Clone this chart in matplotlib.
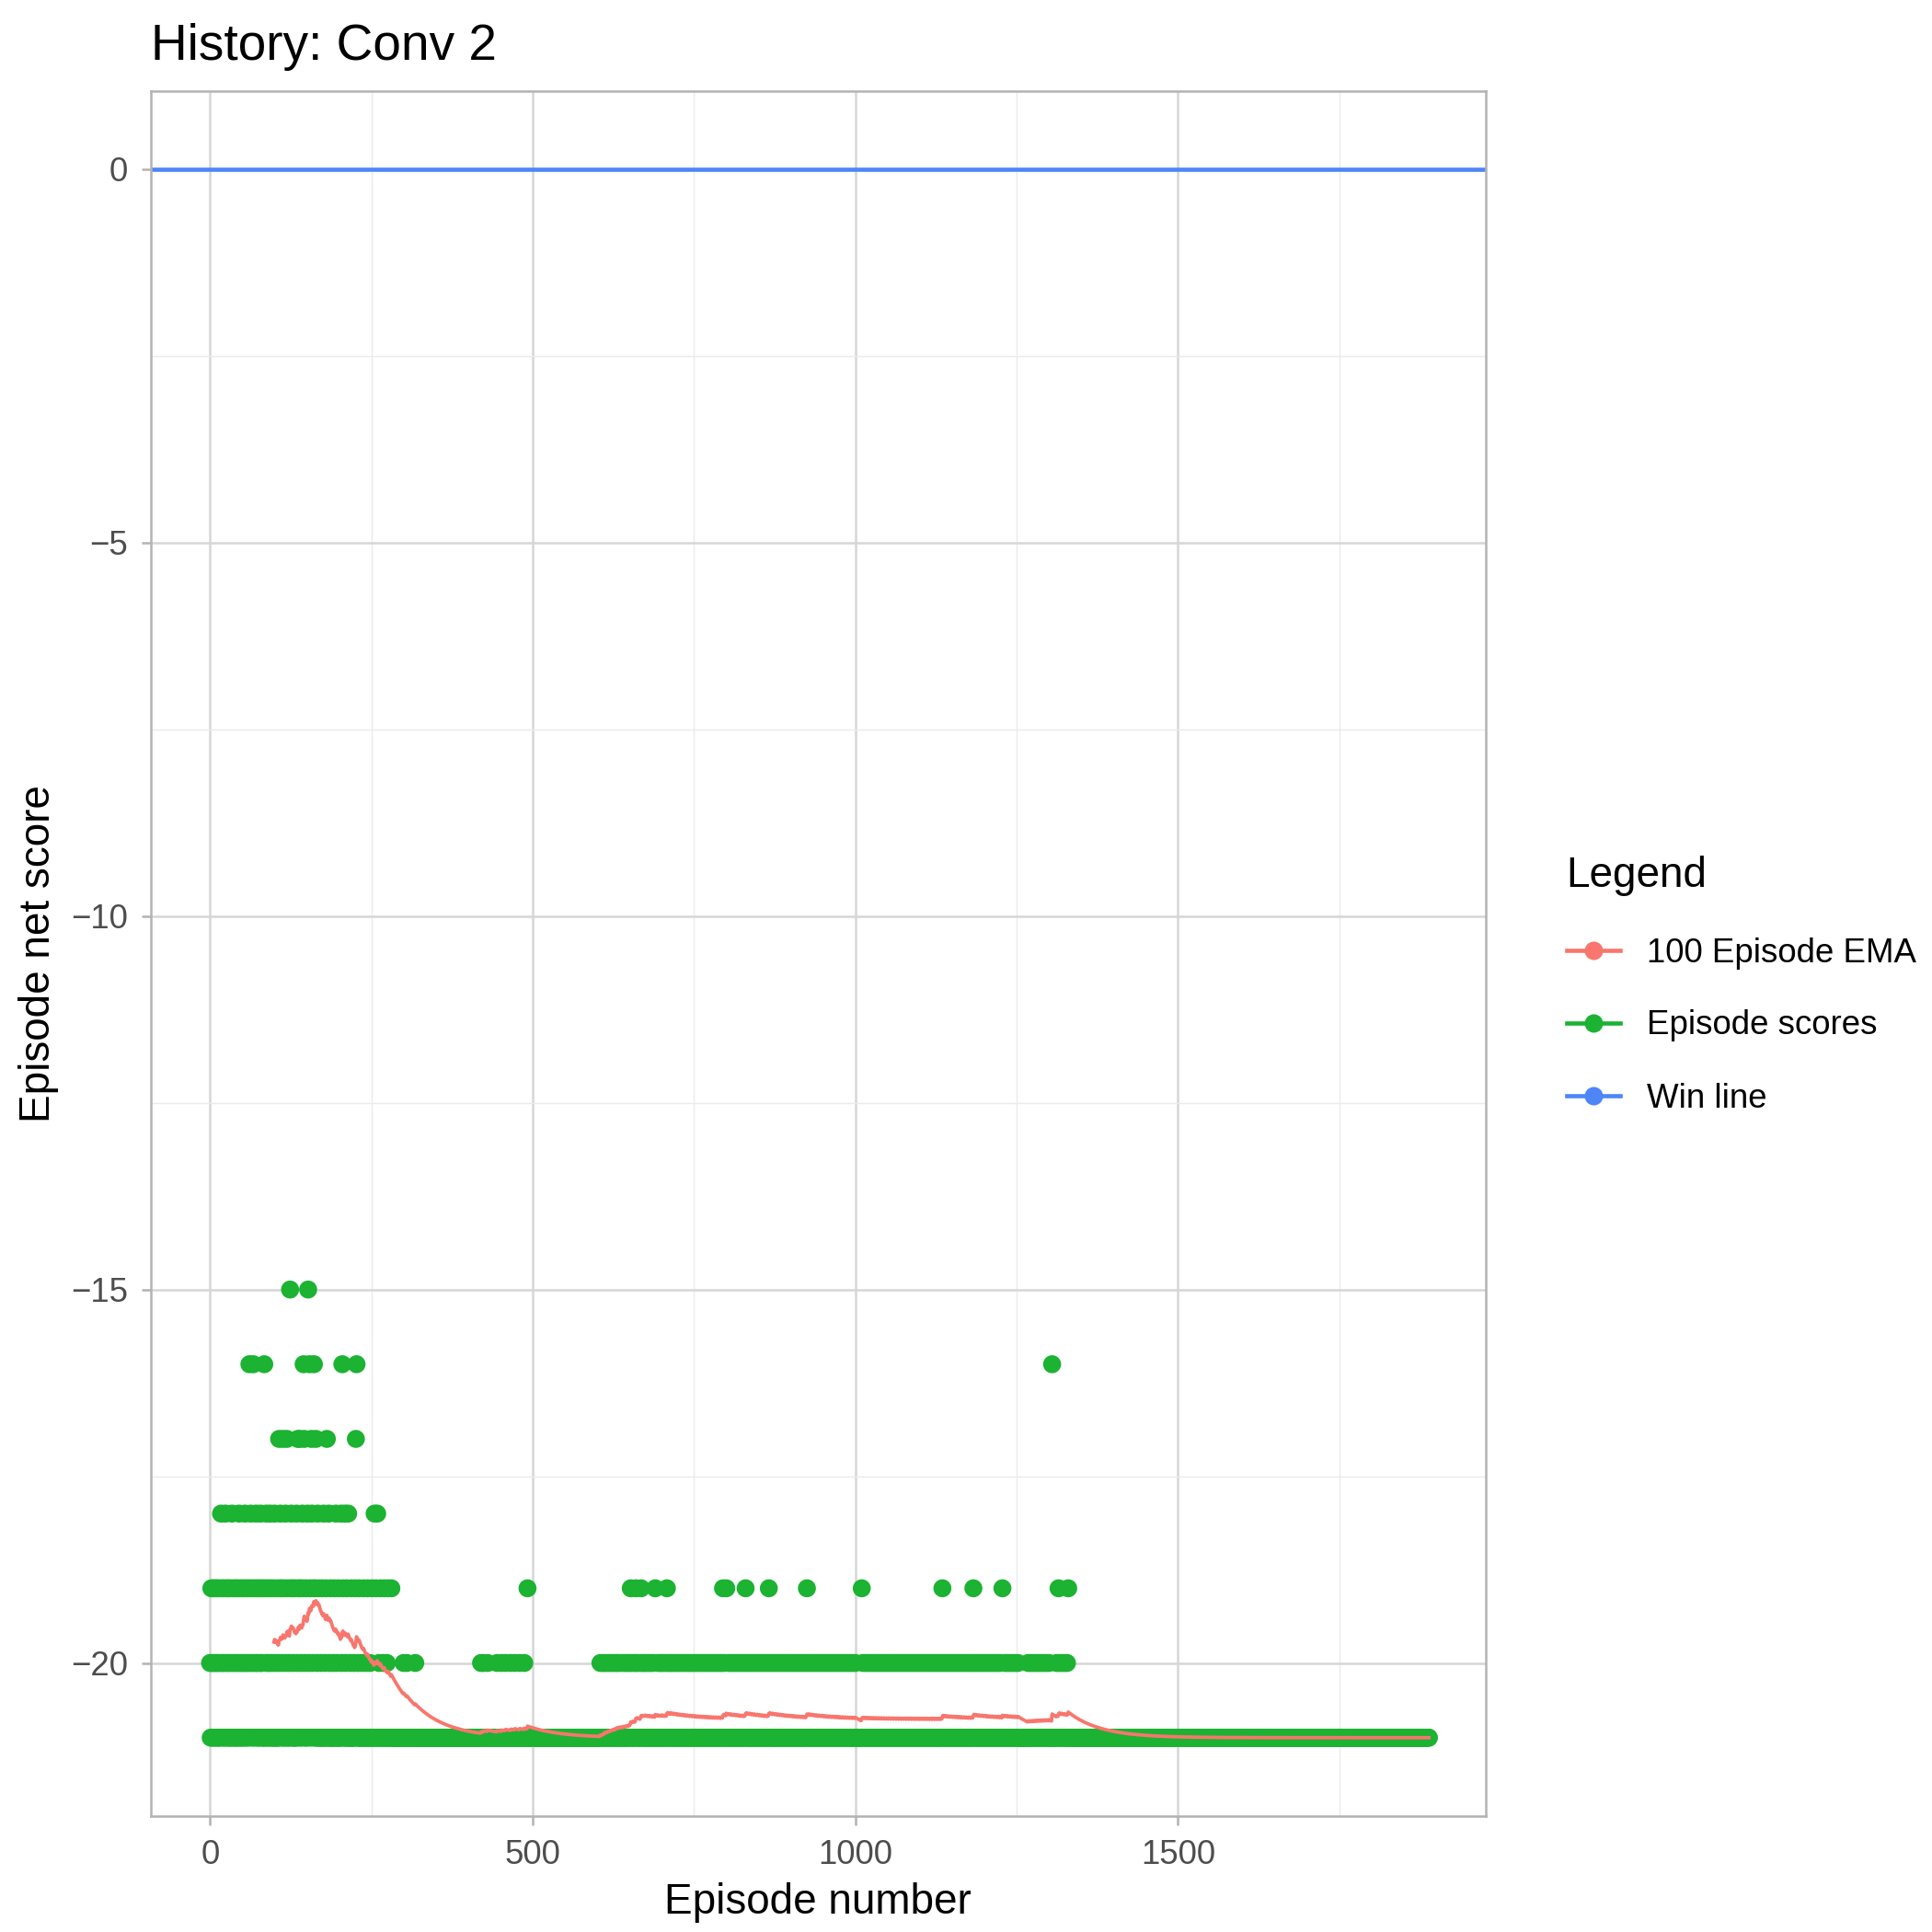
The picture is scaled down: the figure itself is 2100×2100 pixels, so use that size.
"""
History plot: Conv 2 episode scores
"""

import numpy as np
import matplotlib.pyplot as plt
from matplotlib.lines import Line2D

plt.rcParams['font.family'] = ['Liberation Sans', 'DejaVu Sans']

N_EPISODES = 1890
BASE_SCORE = -21
WIN_SCORE = 0
EMA_SPAN = 100

# episodes that scored better than -21, by score level
eps_m20 = [0, 3, 6, 9, 12, 16, 19, 22, 26, 29, 33, 37, 40, 44, 48, 51, 55, 58, 62, 66, 70, 73, 77, 80,
           84, 88, 92, 96, 101, 106, 112, 118, 123, 129, 135, 141, 147, 153, 159, 166, 172, 178, 185,
           191, 197, 204, 210, 217, 223, 229, 236, 242, 248, 255, 262, 268, 274, 300, 305, 318,
           420, 424, 430, 445, 452, 458, 466, 472, 480, 487,
           605, 609, 612, 616, 620, 624, 628, 631, 635, 640, 644, 648, 651, 655, 659, 662, 667, 671,
           674, 678, 682, 686, 690, 694, 698, 701, 705, 709, 713, 716, 720, 724, 728, 732, 736, 740,
           744, 748, 752, 756, 760, 764, 768, 772, 776, 780, 784, 788, 792, 796, 800, 804, 808, 812,
           816, 820, 824, 828, 832, 836, 840, 844, 848, 852, 856, 860, 864, 868, 872, 876, 880, 884,
           888, 892, 896, 900, 904, 908, 912, 916, 920, 924, 928, 932, 936, 940, 944, 948, 952, 956,
           960, 964, 968, 972, 976, 980, 984, 988, 992, 996, 1000, 1012, 1016, 1020, 1024, 1028,
           1032, 1036, 1040, 1044, 1048, 1052, 1056, 1060, 1064, 1068, 1072, 1076, 1080, 1084, 1088,
           1092, 1096, 1100, 1104, 1108, 1112, 1116, 1120, 1124, 1128, 1132, 1136, 1140, 1144, 1148,
           1152, 1156, 1160, 1164, 1168, 1172, 1176, 1180, 1184, 1188, 1192, 1196, 1200, 1204, 1208,
           1212, 1216, 1220, 1224, 1228, 1232, 1236, 1240, 1244, 1248, 1252, 1268, 1272, 1276, 1280,
           1284, 1288, 1292, 1296, 1300, 1312, 1316, 1320, 1324, 1328]
eps_m19 = [2, 5, 8, 11, 14, 18, 21, 25, 28, 31, 35, 39, 42, 46, 50, 53, 57, 60, 64, 68, 72, 75, 79, 82,
           86, 90, 94, 98, 103, 108, 111, 115, 120, 125, 128, 132, 137, 140, 144, 149, 155, 160, 163,
           169, 174, 180, 187, 193, 199, 206, 212, 219, 225, 231, 238, 244, 251, 257, 264, 270, 276,
           281, 492, 652, 660, 668, 690, 708, 795, 800, 830, 866, 925, 1010, 1135, 1183, 1228, 1315,
           1330]
eps_m18 = [17, 24, 34, 45, 54, 63, 71, 78, 87, 93, 100, 109, 117, 126, 134, 143, 151, 158, 167, 176,
           184, 195, 203, 209, 214, 255, 259]
eps_m17 = [107, 113, 119, 136, 139, 146, 157, 164, 181, 226]
eps_m16 = [61, 67, 84, 145, 154, 161, 205, 227, 1305]
eps_m15 = [124, 152]

episodes = np.arange(N_EPISODES)
scores = np.full(N_EPISODES, BASE_SCORE, dtype=float)
for level, eps in [(-20, eps_m20), (-19, eps_m19), (-18, eps_m18),
                   (-17, eps_m17), (-16, eps_m16), (-15, eps_m15)]:
    scores[eps] = level

# 100 episode EMA (seeded with the first 100-episode mean)
alpha = 2 / (EMA_SPAN + 1)
ema = np.full(N_EPISODES, np.nan)
ema[EMA_SPAN - 1] = scores[:EMA_SPAN].mean()
for i in range(EMA_SPAN, N_EPISODES):
    ema[i] = alpha * scores[i] + (1 - alpha) * ema[i - 1]

RED, GREEN, BLUE = '#F8766D', '#1CB232', '#4E86F7'

fig = plt.figure(figsize=(7, 7), dpi=300)
ax = fig.add_axes([0.078, 0.06, 0.691, 0.893])

ax.axhline(WIN_SCORE, color=BLUE, lw=1.1, zorder=2)
ax.scatter(episodes, scores, s=22, color=GREEN, edgecolors='none', zorder=3)
ax.plot(episodes, ema, color=RED, lw=0.9, zorder=4)

ax.set_xlim(-92, 1977)
ax.set_ylim(-22.05, 1.05)
ax.set_xticks([0, 500, 1000, 1500])
ax.set_xticks([250, 750, 1250, 1750], minor=True)
ax.set_yticks([0, -5, -10, -15, -20])
ax.set_yticks([-2.5, -7.5, -12.5, -17.5], minor=True)
ax.grid(True, which='major', color='#D6D6D6', lw=0.6)
ax.grid(True, which='minor', color='#EBEBEB', lw=0.35)
ax.set_axisbelow(True)
for s in ax.spines.values():
    s.set_color('#B3B3B3')
    s.set_linewidth(0.6)
ax.tick_params(which='major', length=2.5, width=0.6, color='#B3B3B3', labelsize=8.8, labelcolor='#4D4D4D')
ax.tick_params(which='minor', length=0)

ax.set_xlabel('Episode number', fontsize=11, labelpad=3)
ax.set_ylabel('Episode net score', fontsize=11, labelpad=3)
ax.set_title('History: Conv 2', fontsize=13.2, loc='left', x=-0.0, pad=8)

handles = [Line2D([0], [0], color=c, lw=1.1, marker='o', markersize=3.8) for c in (RED, GREEN, BLUE)]
fig.legend(handles, ['100 Episode EMA', 'Episode scores', 'Win line'], title='Legend',
           loc='center left', bbox_to_anchor=(0.795, 0.49), frameon=False,
           fontsize=8.8, title_fontsize=11, handlelength=1.6, labelspacing=1.2,
           alignment='left')

plt.savefig('out.png', dpi=300)
